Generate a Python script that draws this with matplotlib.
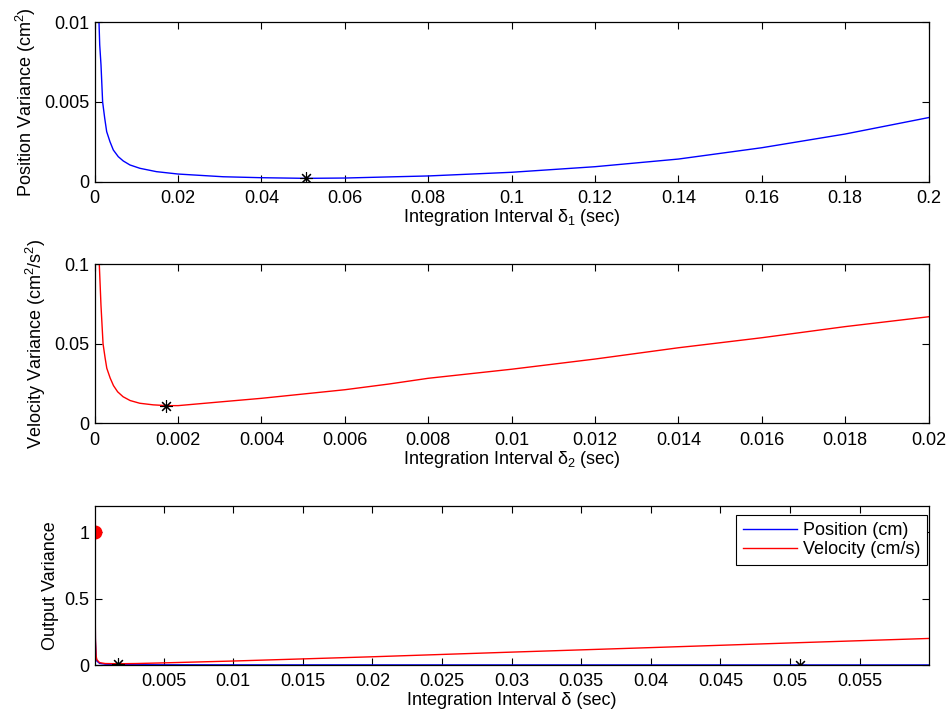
import numpy as np
import matplotlib
matplotlib.use("Agg")
import matplotlib.pyplot as plt

plt.rcParams['font.family'] = ['Liberation Sans', 'DejaVu Sans']
plt.rcParams['mathtext.fontset'] = 'custom'
plt.rcParams['mathtext.rm'] = 'Liberation Sans'
plt.rcParams['mathtext.default'] = 'regular'
plt.rcParams['font.size'] = 13

# Position variance vs integration interval delta_1
d1 = [0.00103, 0.0012, 0.00151, 0.0019, 0.0024, 0.00287, 0.00366, 0.00446,
      0.00565, 0.00685, 0.00845, 0.01084, 0.0148, 0.02, 0.0308, 0.04, 0.0507,
      0.06, 0.0706, 0.08, 0.1, 0.12, 0.14, 0.16, 0.18, 0.2]
pos_var = [0.01, 0.00858, 0.00732, 0.005, 0.00398, 0.00314, 0.00251, 0.00199,
           0.00157, 0.0013, 0.00105, 0.00084, 0.00063, 0.00048, 0.00031,
           0.00025, 0.00021, 0.00023, 0.0003, 0.00036, 0.00059, 0.00094,
           0.00142, 0.00213, 0.00299, 0.00402]
d1_opt, pos_opt = 0.0507, 0.00021

# Velocity variance vs integration interval delta_2
d2 = [0.00011, 0.00015, 0.0002, 0.00025, 0.00029, 0.00037, 0.00045, 0.00055,
      0.00068, 0.00085, 0.00108, 0.0014, 0.00172, 0.002, 0.00308, 0.004,
      0.006, 0.00706, 0.008, 0.01, 0.012, 0.014, 0.016, 0.018, 0.02]
vel_var = [0.1, 0.0744, 0.05, 0.041, 0.0346, 0.0285, 0.0237, 0.0198,
           0.0167, 0.0143, 0.0126, 0.0116, 0.0111, 0.0111, 0.0136, 0.0157,
           0.0211, 0.0247, 0.0283, 0.034, 0.0404, 0.0475, 0.0538, 0.0608, 0.067]
d2_opt, vel_opt = 0.00172, 0.0111

# Normalised output variance (bottom panel)
d = [0.00005, 0.00008, 0.0001, 0.00015, 0.0002, 0.0004, 0.0008, 0.00173,
     0.003, 0.005, 0.01, 0.02, 0.03, 0.04, 0.05, 0.06]
out_pos = [1.0, 0.45, 0.18, 0.06, 0.03, 0.012, 0.006, 0.003,
           0.002, 0.0015, 0.001, 0.0008, 0.0006, 0.0005, 0.0004, 0.0004]
out_vel = [1.0, 0.5, 0.2, 0.07, 0.04, 0.018, 0.011, 0.0095,
           0.011, 0.016, 0.03, 0.062, 0.097, 0.131, 0.166, 0.2]
out_pos_opt, out_vel_opt = 0.0005, 0.0095

star = (8, 2, 0)


def style_axes(ax):
    ax.tick_params(direction='in', top=True, right=True, length=5, width=0.8,
                   labelsize=13, pad=4)
    ax.tick_params(axis='x', pad=6)
    for s in ax.spines.values():
        s.set_linewidth(0.9)


fig = plt.figure(figsize=(9.49, 7.19), dpi=100)

ax1 = fig.add_axes([0.0998, 0.7473, 0.8786, 0.2217])
ax1.plot(d1, pos_var, color='blue', linewidth=1)
ax1.plot(d1_opt, pos_opt, linestyle='none', marker=star, markersize=9,
         color='black', markeredgewidth=0.8)
ax1.set_xlim(0, 0.2)
ax1.set_ylim(0, 0.01)
ax1.set_xticks(np.arange(0, 0.21, 0.02))
ax1.set_xticklabels(['0', '0.02', '0.04', '0.06', '0.08', '0.1', '0.12', '0.14',
                     '0.16', '0.18', '0.2'])
ax1.set_yticks([0, 0.005, 0.01])
ax1.set_yticklabels(['0', '0.005', '0.01'])
ax1.set_xlabel(r'Integration Interval δ$_1$ (sec)', labelpad=0)
ax1.set_ylabel(r'Position Variance (cm$^2$)')
style_axes(ax1)

ax2 = fig.add_axes([0.0998, 0.4113, 0.8786, 0.2211])
ax2.plot(d2, vel_var, color='red', linewidth=1)
ax2.plot(d2_opt, vel_opt, linestyle='none', marker=star, markersize=9,
         color='black', markeredgewidth=0.8)
ax2.set_xlim(0, 0.02)
ax2.set_ylim(0, 0.1)
ax2.set_xticks(np.arange(0, 0.021, 0.002))
ax2.set_xticklabels(['0', '0.002', '0.004', '0.006', '0.008', '0.01', '0.012',
                     '0.014', '0.016', '0.018', '0.02'])
ax2.set_yticks([0, 0.05, 0.1])
ax2.set_yticklabels(['0', '0.05', '0.1'])
ax2.set_xlabel(r'Integration Interval δ$_2$ (sec)', labelpad=0)
ax2.set_ylabel(r'Velocity Variance (cm$^2$/s$^2$)')
style_axes(ax2)

ax3 = fig.add_axes([0.0998, 0.0751, 0.8786, 0.2216])
ax3.plot(d, out_pos, color='blue', linewidth=1, label='Position (cm)')
ax3.plot(d, out_vel, color='red', linewidth=1, label='Velocity (cm/s)')
ax3.plot(d[0], out_vel[0], linestyle='none', marker='o', markersize=9,
         color='red')
ax3.plot([d2_opt, d1_opt], [out_vel_opt, out_pos_opt], linestyle='none',
         marker=star, markersize=9, color='black', markeredgewidth=0.8)
ax3.set_xlim(0.00005, 0.05995)
ax3.set_ylim(0, 1.2)
ax3.set_xticks(np.arange(0.005, 0.056, 0.005))
ax3.set_xticklabels(['0.005', '0.01', '0.015', '0.02', '0.025', '0.03', '0.035',
                     '0.04', '0.045', '0.05', '0.055'])
ax3.set_yticks([0, 0.5, 1])
ax3.set_yticklabels(['0', '0.5', '1'])
ax3.set_xlabel('Integration Interval δ (sec)', labelpad=1)
ax3.set_ylabel('Output Variance')
style_axes(ax3)
leg = ax3.legend(loc='upper right', bbox_to_anchor=(0.9984, 0.9416),
                 borderaxespad=0, fancybox=False, framealpha=1,
                 edgecolor='black', handlelength=3.0, handletextpad=0.3,
                 borderpad=0.4, labelspacing=0.1, fontsize=13)
leg.get_frame().set_linewidth(0.8)

fig.savefig('out.png', dpi=100)
